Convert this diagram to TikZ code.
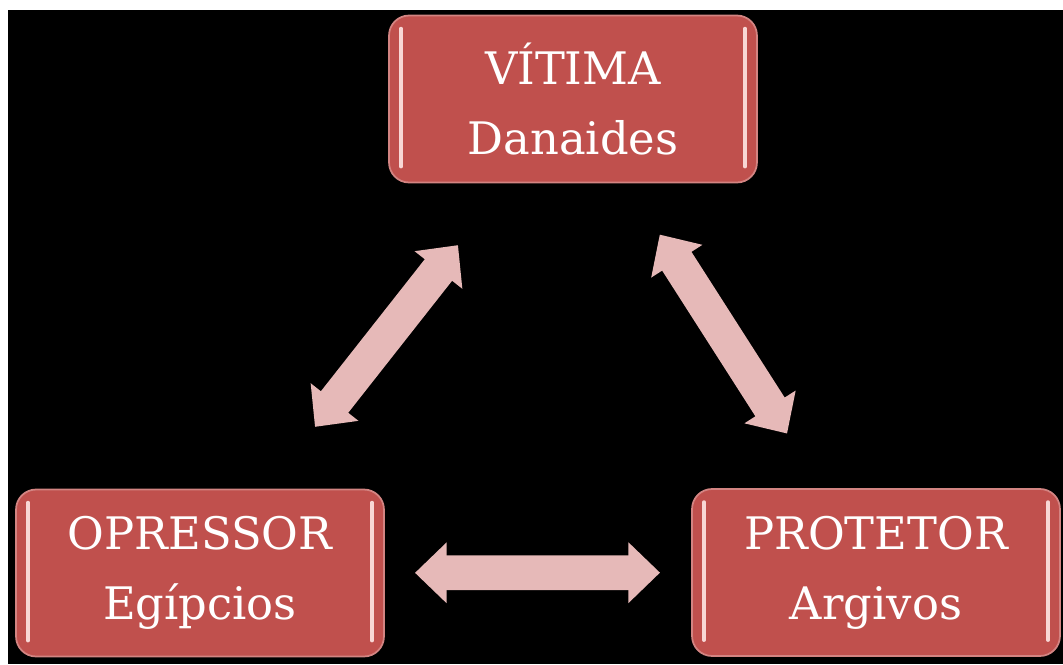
\documentclass[tikz,border=0pt]{standalone}
\usepackage{fontspec}
\setmainfont{DejaVu Serif}
\usepackage{tikz}
\usetikzlibrary{arrows.meta, positioning}
\definecolor{boxred}{RGB}{192, 80, 77}
\definecolor{arrowpink}{RGB}{230, 185, 184}
\definecolor{shine}{RGB}{248, 215, 213}
\tikzstyle{rolebox} = [rectangle, rounded corners=0.4cm, minimum width=7.36cm, minimum height=3.34cm, align=center, draw=boxred!70!white, line width=1pt, fill=boxred, text=white, font=\fontsize{25.5}{39.7}\selectfont,
  path picture={
    \draw[shine, line width=2pt, line cap=round] ([xshift=6.8pt,yshift=-7.4pt]path picture bounding box.north west) -- ([xshift=6.8pt,yshift=9pt]path picture bounding box.south west);
    \draw[shine, line width=2pt, line cap=round] ([xshift=-6.8pt,yshift=-7.4pt]path picture bounding box.north east) -- ([xshift=-6.8pt,yshift=9pt]path picture bounding box.south east);
  }]
\tikzstyle{fatarrow} = [line width=19.8pt, draw=arrowpink, {Triangle[length=18pt,width=33.5pt]}-{Triangle[length=18pt,width=33.5pt]}]

\begin{document}
\begin{tikzpicture}[x=0.02cm, y=-0.02cm]
    \useasboundingbox (0, 0) rectangle (1063, 664);
    \fill[white] (0, 0) rectangle (1063, 664);
    \fill[black] (8, 10) rectangle (1063, 664);

    \node[rolebox] (vitima) at (573, 99) {VÍTIMA\\Danaides};
    \node[rolebox] (opressor) at (200, 573) {OPRESSOR\\Egípcios};
    \node[rolebox] (protetor) at (876, 572.5) {PROTETOR\\Argivos};

    % Arrows
    \draw[fatarrow, shorten <=3.72cm, shorten >=3.72cm] (opressor.center) -- (vitima.center);
    \draw[fatarrow, shorten <=3.22cm, shorten >=3.30cm] (vitima.center) -- (protetor.center);
    \draw[fatarrow, shorten <=4.30cm, shorten >=4.32cm] (opressor.center) -- (protetor.center);
\end{tikzpicture}
\end{document}
